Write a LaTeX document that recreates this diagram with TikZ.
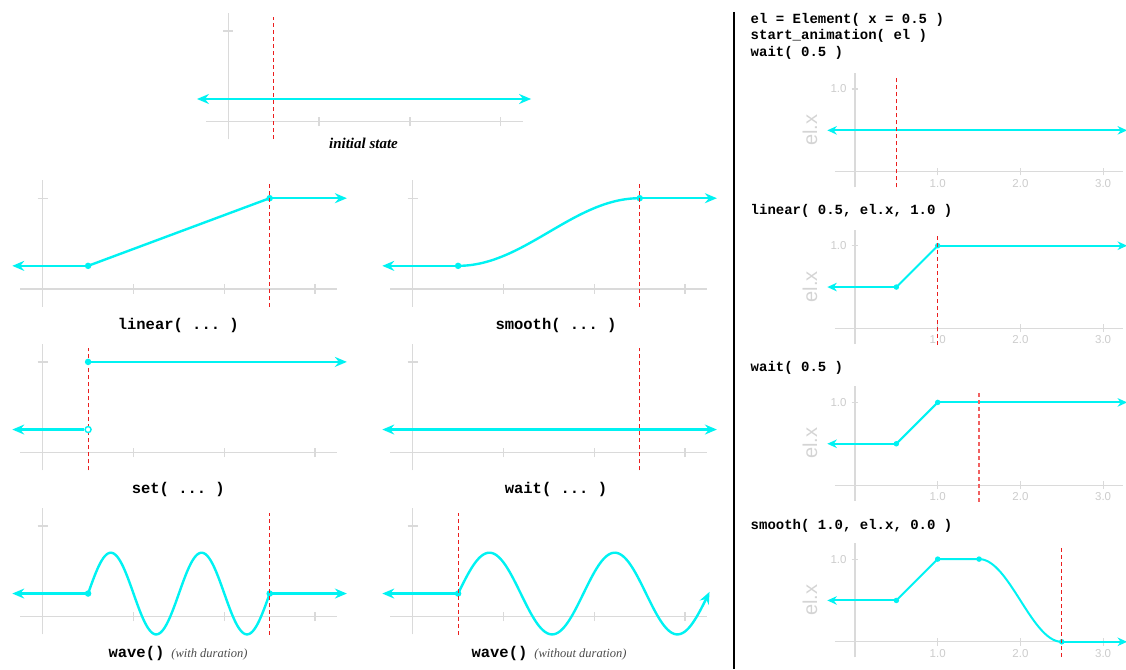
\documentclass[tikz,border=0pt]{standalone}
\usepackage{fontspec}
\setmainfont{Liberation Serif}
\setsansfont{Liberation Sans}
\setmonofont{Liberation Mono}
\usetikzlibrary{arrows.meta}
\definecolor{cy}{RGB}{0,242,242}
\definecolor{axg}{RGB}{218,218,218}
\definecolor{lblg}{RGB}{204,204,204}
\definecolor{dred}{RGB}{235,30,30}
\newcommand\panelaxesL{%
  \draw[axisL] (0,-0.195) -- (0,1.2);
  \draw[axisL] (-0.055,1) -- (0.055,1);
  \draw[axisL] (-0.245,0) -- (3.24,0);
  \foreach \t in {1,2,3} {\draw[axisL] (\t,-0.05) -- (\t,0.05);}
}
\newcommand\panelaxesR[1]{%
  \draw[axisR] (0,-0.189) -- (0,1.195);
  \draw[axisR] (-0.04,1) -- (0.04,1);
  \node[rlbl,anchor=east] (#1-y1) at (-0.1,1) {1.0};
  \draw[axisR] (-0.242,0) -- (3.24,0);
  \foreach \t in {1,2,3} {\draw[axisR] (\t,-0.045) -- (\t,0.05);
    \node[rlbl] (#1-x\t) at (\t,-0.14) {\t.0};}
  \node[rlbl,font=\fontsize{20}{22}\selectfont\sffamily,text=lblg!85,rotate=90] (#1-lab) at (-0.544,0.504) {el.x};
}
\begin{document}
\begin{tikzpicture}[x=1pt,y=-1pt,
  axisL/.style={draw=axg,line width=1.4pt},
  axisR/.style={draw=axg,line width=1.2pt},
  curveL/.style={draw=cy,line width=2.4pt},
  curveR/.style={draw=cy,line width=2pt},
  tipL/.style={-{Stealth[length=12pt,width=10pt,inset=4pt]}},
  tipLL/.style={{Stealth[length=12pt,width=10pt,inset=4pt]}-{Stealth[length=12pt,width=10pt,inset=4pt]}},
  tipR/.style={-{Stealth[length=9.5pt,width=8.5pt,inset=3pt]}},
  tipRR/.style={{Stealth[length=9.5pt,width=8.5pt,inset=3pt]}-{Stealth[length=9.5pt,width=8.5pt,inset=3pt]}},
  dotL/.style={circle,fill=cy,inner sep=0pt,minimum size=6.5pt},
  odotL/.style={circle,draw=cy,fill=white,line width=1.4pt,inner sep=0pt,minimum size=6pt},
  dotR/.style={circle,fill=cy,inner sep=0pt,minimum size=5.5pt},
  timeline/.style={draw=dred,line width=1.2pt,dash pattern=on 4pt off 3pt},
  monoL/.style={inner sep=0pt,anchor=base,font=\fontsize{15.5}{18}\selectfont\ttfamily\bfseries},
  codeR/.style={inner sep=0pt,anchor=base west,font=\fontsize{14}{16}\selectfont\ttfamily\bfseries},
  rlbl/.style={inner sep=0pt,text=lblg,font=\fontsize{11.5}{13}\selectfont\sffamily}
]
\useasboundingbox (0,0) rectangle (1126,669);

% divider
\coordinate (dv1) at (734,12);
\coordinate (dv2) at (734,669);
\draw[line width=2pt] (dv1) -- (dv2);

% ---------- initial state
\begin{scope}[shift={(228.3,121.7)},x=90.8pt,y=90.8pt]
  \panelaxesL
  \coordinate (i0) at (-0.345,0.25);
  \coordinate (i1) at (3.335,0.25);
  \draw[curveL,tipLL] (i0) -- (i1);
  \draw[timeline] (0.5,-0.19) -- (0.5,1.153);
\end{scope}
\node[inner sep=0pt,anchor=base,font=\fontsize{15}{17}\selectfont\bfseries\itshape] (tinit) at (363.5,148.3) {initial state};

% ---------- linear
\begin{scope}[shift={(42.7,289)},x=90.8pt,y=90.8pt]
  \panelaxesL
  \node[dotL] (l1) at (0.5,0.255) {};
  \node[dotL] (l2) at (2.5,1) {};
  \coordinate (la) at (-0.335,0.255);
  \coordinate (lb) at (3.35,1);
  \draw[curveL,tipL] (l1.center) -- (la);
  \draw[curveL] (l1.center) -- (l2.center);
  \draw[curveL,tipL] (l2.center) -- (lb);
  \draw[timeline] (2.5,-0.195) -- (2.5,1.153);
\end{scope}
\node[monoL] (tlin) at (178.3,329.3) {linear( ... )};

% ---------- smooth
\begin{scope}[shift={(412.7,289)},x=90.8pt,y=90.8pt]
  \panelaxesL
  \node[dotL] (m1) at (0.5,0.255) {};
  \node[dotL] (m2) at (2.5,1) {};
  \coordinate (ma) at (-0.335,0.255);
  \coordinate (mb) at (3.35,1);
  \draw[curveL,tipL] (m1.center) -- (ma);
  \draw[curveL] plot[domain=0.5:2.5,samples=60] (\x,{0.255+0.745*(1-cos(90*(\x-0.5)))/2});
  \draw[curveL,tipL] (m2.center) -- (mb);
  \draw[timeline] (2.5,-0.195) -- (2.5,1.153);
\end{scope}
\node[monoL] (tsmo) at (556,329.3) {smooth( ... )};

% ---------- set
\begin{scope}[shift={(42.7,452.7)},x=90.8pt,y=90.8pt]
  \panelaxesL
  \coordinate (sa) at (-0.335,0.255);
  \coordinate (sb) at (3.35,1);
  \draw[timeline] (0.5,-0.195) -- (0.5,1.153);
  \node[odotL] (s1) at (0.5,0.255) {};
  \node[dotL] (s2) at (0.5,1) {};
  \draw[curveL,tipL] (s1) -- (sa);
  \draw[curveL,tipL] (s2.center) -- (sb);
\end{scope}
\node[monoL] (tset) at (178.3,493.3) {set( ... )};

% ---------- wait
\begin{scope}[shift={(412.7,452.7)},x=90.8pt,y=90.8pt]
  \panelaxesL
  \coordinate (wa) at (-0.335,0.255);
  \coordinate (wb) at (3.35,0.255);
  \draw[curveL,tipLL] (wa) -- (wb);
  \draw[timeline] (2.5,-0.195) -- (2.5,1.153);
\end{scope}
\node[monoL] (twai) at (556,493.3) {wait( ... )};

% ---------- wave with duration
\begin{scope}[shift={(42.7,616.7)},x=90.8pt,y=90.8pt]
  \panelaxesL
  \node[dotL] (v1) at (0.5,0.255) {};
  \node[dotL] (v2) at (2.5,0.255) {};
  \coordinate (va) at (-0.335,0.255);
  \coordinate (vb) at (3.35,0.255);
  \draw[curveL,tipL] (v1.center) -- (va);
  \draw[curveL] plot[domain=0.5:2.5,samples=120] (\x,{0.255+0.45*sin(360*(\x-0.5))});
  \draw[curveL,tipL] (v2.center) -- (vb);
  \draw[timeline] (2.5,-0.2) -- (2.5,1.145);
\end{scope}
\node[inner sep=0pt,anchor=base] (twv1) at (178,657.5) {{\fontsize{15.5}{18}\selectfont\ttfamily\bfseries wave()}\hspace{7pt}{\fontsize{12.5}{14}\selectfont\itshape\color{black!70}(with duration)}};

% ---------- wave without duration
\begin{scope}[shift={(412.7,616.7)},x=90.8pt,y=90.8pt]
  \panelaxesL
  \node[dotL] (u1) at (0.5,0.255) {};
  \coordinate (ua) at (-0.335,0.255);
  \draw[curveL,tipL] (u1.center) -- (ua);
  \draw[curveL,tipL] plot[domain=0.5:3.27,samples=150] (\x,{0.255+0.45*sin(360*(\x-0.5)/1.38)});
  \draw[timeline] (0.5,-0.2) -- (0.5,1.145);
\end{scope}
\node[inner sep=0pt,anchor=base] (twv2) at (549,657.5) {{\fontsize{15.5}{18}\selectfont\ttfamily\bfseries wave()}\hspace{7pt}{\fontsize{12.5}{14}\selectfont\itshape\color{black!70}(without duration)}};

% ---------- right column
\node[codeR] (c1) at (750.5,23.3) {el = Element( x = 0.5 )};
\node[codeR] (c2) at (750.5,40) {start\_animation( el )};
\node[codeR] (c3) at (750.5,56.7) {wait( 0.5 )};

\begin{scope}[shift={(855,171.7)},x=82.7pt,y=82.7pt]
  \panelaxesR{p1}
  \coordinate (p1a) at (-0.335,0.5);
  \coordinate (p1b) at (3.29,0.5);
  \draw[curveR,tipRR] (p1a) -- (p1b);
  \draw[timeline] (0.5,-0.189) -- (0.5,1.157);
\end{scope}

\node[codeR] (c4) at (750.5,214.3) {linear( 0.5, el.x, 1.0 )};
\begin{scope}[shift={(855,328.4)},x=82.7pt,y=82.7pt]
  \panelaxesR{p2}
  \node[dotR] (q1) at (0.5,0.5) {};
  \node[dotR] (q2) at (1,1) {};
  \coordinate (p2a) at (-0.335,0.5);
  \coordinate (p2b) at (3.29,1);
  \draw[curveR,tipR] (q1.center) -- (p2a);
  \draw[curveR] (q1.center) -- (q2.center);
  \draw[curveR,tipR] (q2.center) -- (p2b);
  \draw[timeline] (1,-0.2) -- (1,1.149);
\end{scope}

\node[codeR] (c5) at (750.5,371.7) {wait( 0.5 )};
\begin{scope}[shift={(855,485.1)},x=82.7pt,y=82.7pt]
  \panelaxesR{p3}
  \node[dotR] (r1) at (0.5,0.5) {};
  \node[dotR] (r2) at (1,1) {};
  \coordinate (p3a) at (-0.335,0.5);
  \coordinate (p3b) at (3.29,1);
  \draw[curveR,tipR] (r1.center) -- (p3a);
  \draw[curveR] (r1.center) -- (r2.center);
  \draw[curveR,tipR] (r2.center) -- (p3b);
  \draw[timeline,draw=dred!70,line width=1.6pt] (1.5,-0.2) -- (1.5,1.149);
\end{scope}

\node[codeR] (c6) at (750.5,529) {smooth( 1.0, el.x, 0.0 )};
\begin{scope}[shift={(855,641.8)},x=82.7pt,y=82.7pt]
  \panelaxesR{p4}
  \node[dotR] (k1) at (0.5,0.5) {};
  \node[dotR] (k2) at (1,1) {};
  \node[dotR] (k3) at (1.5,1) {};
  \node[dotR] (k4) at (2.5,0) {};
  \coordinate (p4a) at (-0.335,0.5);
  \coordinate (p4b) at (3.29,0);
  \draw[curveR,tipR] (k1.center) -- (p4a);
  \draw[curveR] (k1.center) -- (k2.center) -- (k3.center);
  \draw[curveR] plot[domain=1.5:2.5,samples=60] (\x,{(1+cos(180*(\x-1.5)))/2});
  \draw[curveR,tipR] (k4.center) -- (p4b);
  \draw[timeline] (2.5,-0.18) -- (2.5,1.141);
\end{scope}
\end{tikzpicture}
\end{document}
